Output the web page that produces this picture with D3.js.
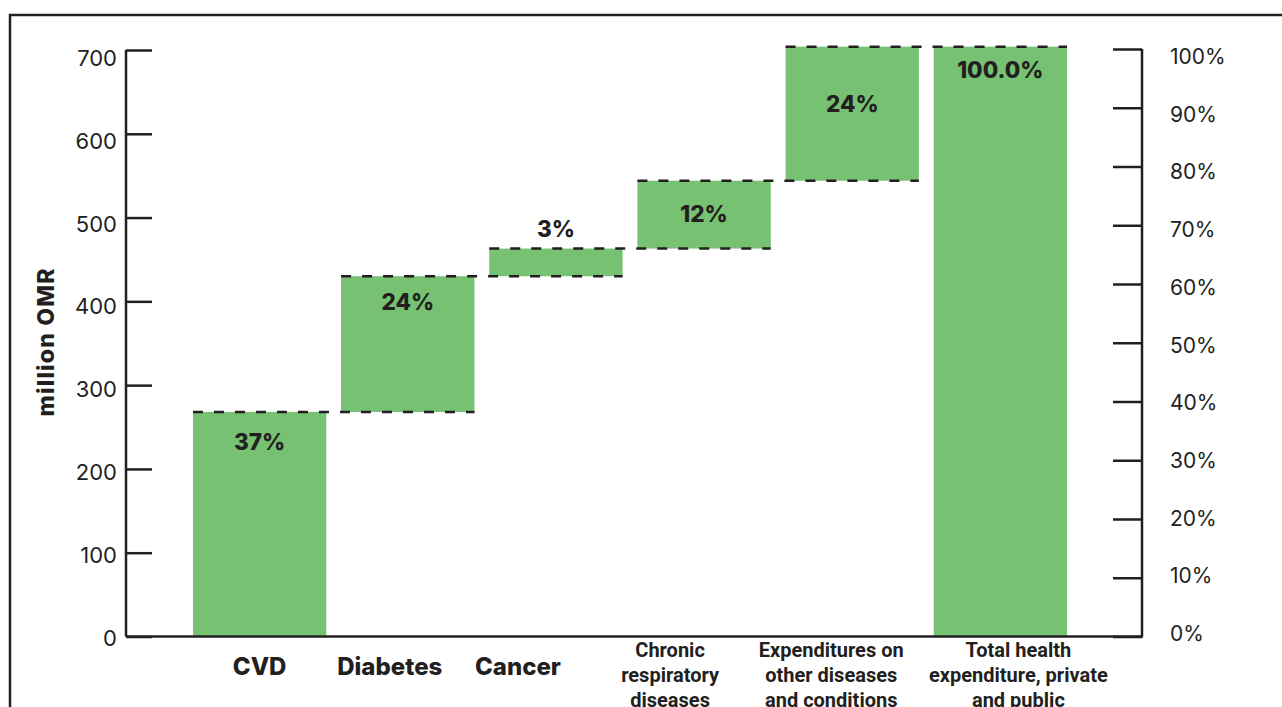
<!DOCTYPE html>
<html>
<head>
<meta charset="utf-8">
<script src="https://cdn.jsdelivr.net/npm/d3@7"></script>
<style>
  body { margin: 0; background: #fff; }
  svg { display: block; }
  text { fill: #231f20; }
</style>
</head>
<body>
<div id="chart-area"></div>
<script>
// waterfall: health expenditure by disease group (million OMR)
var categories = ["CVD", "Diabetes", "Cancer", "Chronic respiratory diseases",
    "Expenditures on other diseases and conditions", "Total health expenditure, private and public"];
var labelLines = [["CVD"], ["Diabetes"], ["Cancer"],
    ["Chronic", "respiratory", "diseases"],
    ["Expenditures on", "other diseases", "and conditions"],
    ["Total health", "expenditure, private", "and public"]];
var amounts = [268, 162, 33, 81, 160, 704];
var shares = ["37%", "24%", "3%", "12%", "24%", "100.0%"];
var leftTicks = [0, 100, 200, 300, 400, 500, 600, 700];
var rightTicks = [0, 10, 20, 30, 40, 50, 60, 70, 80, 90, 100];

var W = 1282, H = 707;
var ink = "#231f20", green = "#76c172";
var font = "Inter, sans-serif";

// small layout nudges for the labels, as in the original artwork
var catShift = [0, -18, -38, -34, -21, 18];
var shareShift = [4, 0, 0, 7, 31, -3];

var svg = d3.select("#chart-area").append("svg")
    .attr("width", W)
    .attr("height", H);

// frame around the figure (cut off at right and bottom)
svg.append("path")
    .attr("d", "M10,720 L10,15 L1300,15")
    .attr("fill", "none")
    .attr("stroke", ink)
    .attr("stroke-width", 2.5);

var y = d3.scaleLinear().domain([0, 700]).range([636.5, 50]);
var yPct = d3.scaleLinear().domain([0, 100]).range([636.5, 49]);
// tick labels sit a little off their ticks in the original
var yLab = d3.scaleLinear().domain([0, 700]).range([637.5, 58]);
var yPctLab = d3.scaleLinear().domain([0, 100]).range([633, 56]);

var x = d3.scaleBand()
    .domain(categories)
    .range([190, 1070])
    .paddingInner(0.1)
    .paddingOuter(0.02);

// waterfall start/end
var bars = [];
var run = 0;
amounts.forEach((v, i) => {
    if (i == amounts.length - 1) {
        bars.push({ cat: categories[i], y0: 0, y1: v, share: shares[i], i: i });
    } else {
        bars.push({ cat: categories[i], y0: run, y1: run + v, share: shares[i], i: i });
        run += v;
    }
});

svg.selectAll("rect.bar")
    .data(bars)
    .enter()
    .append("rect")
    .attr("class", "bar")
    .attr("x", d => x(d.cat))
    .attr("width", x.bandwidth())
    .attr("y", d => y(d.y1))
    .attr("height", d => y(d.y0) - y(d.y1))
    .attr("fill", green);

// dashed connectors from bar i to bar i+1
svg.selectAll("line.conn")
    .data(bars.slice(0, bars.length - 1))
    .enter()
    .append("line")
    .attr("class", "conn")
    .attr("x1", d => x(d.cat))
    .attr("x2", d => x(categories[d.i + 1]) + x.bandwidth())
    .attr("y1", d => y(d.y1))
    .attr("y2", d => y(d.y1))
    .attr("stroke", ink)
    .attr("stroke-width", 2.5)
    .attr("stroke-dasharray", "10,11");

// share labels
svg.selectAll("text.share")
    .data(bars)
    .enter()
    .append("text")
    .attr("class", "share")
    .attr("x", d => x(d.cat) + x.bandwidth() / 2)
    .attr("y", d => {
        var h = y(d.y0) - y(d.y1);
        return (h < 40 ? y(d.y1) - 12 : y(d.y1) + 34) + shareShift[d.i];
    })
    .attr("text-anchor", "middle")
    .attr("font-family", font)
    .attr("font-weight", "800")
    .attr("font-size", 22.5)
    .text(d => d.share);

// left axis
var gl = svg.append("g").attr("transform", "translate(126,0)");
gl.call(d3.axisRight(y).tickValues(leftTicks).tickSize(26).tickFormat(""));
gl.select(".domain").remove();
gl.selectAll(".tick line").attr("stroke", ink).attr("stroke-width", 2.5);
gl.append("line").attr("y1", y(700)).attr("y2", y(0))
    .attr("stroke", ink).attr("stroke-width", 2.5);
gl.selectAll(".tl")
    .data(leftTicks)
    .enter()
    .append("text")
    .attr("x", -9)
    .attr("y", d => yLab(d) + 8)
    .attr("text-anchor", "end")
    .attr("font-family", font)
    .attr("font-weight", "400")
    .attr("font-size", 22)
    .text(d => d);

// right axis
var gr = svg.append("g").attr("transform", "translate(1142,0)");
gr.call(d3.axisLeft(yPct).tickValues(rightTicks).tickSize(29).tickFormat(""));
gr.select(".domain").remove();
gr.selectAll(".tick line").attr("stroke", ink).attr("stroke-width", 2.5);
gr.append("line").attr("y1", yPct(100)).attr("y2", yPct(0))
    .attr("stroke", ink).attr("stroke-width", 2.5);
gr.selectAll(".tr")
    .data(rightTicks)
    .enter()
    .append("text")
    .attr("x", 28)
    .attr("y", d => yPctLab(d) + 8)
    .attr("text-anchor", "start")
    .attr("font-family", font)
    .attr("font-weight", "400")
    .attr("font-size", 21)
    .text(d => d + "%");

// baseline
svg.append("line")
    .attr("x1", 126).attr("x2", 1143)
    .attr("y1", y(0)).attr("y2", y(0))
    .attr("stroke", ink).attr("stroke-width", 2.5);

// y title
svg.append("text")
    .attr("transform", "translate(54,342) rotate(-90)")
    .attr("text-anchor", "middle")
    .attr("font-family", font)
    .attr("font-weight", "800")
    .attr("font-size", 23)
    .attr("letter-spacing", 1.2)
    .text("million OMR");

// category labels
var catG = svg.selectAll("g.cat")
    .data(labelLines)
    .enter()
    .append("g")
    .attr("class", "cat")
    .attr("transform", (d, i) => "translate(" + (x(categories[i]) + x.bandwidth() / 2 + catShift[i]) + ",0)");

catG.each(function(lines) {
    var g = d3.select(this);
    var single = lines.length == 1;
    lines.forEach((t, j) => {
        g.append("text")
            .attr("y", single ? 675 : 657 + j * 25)
            .attr("text-anchor", "middle")
            .attr("font-family", single ? font : "Roboto, sans-serif")
            .attr("font-weight", single ? "800" : "700")
            .attr("font-size", single ? 24 : 20)
            .text(t);
    });
});
</script>
</body>
</html>
